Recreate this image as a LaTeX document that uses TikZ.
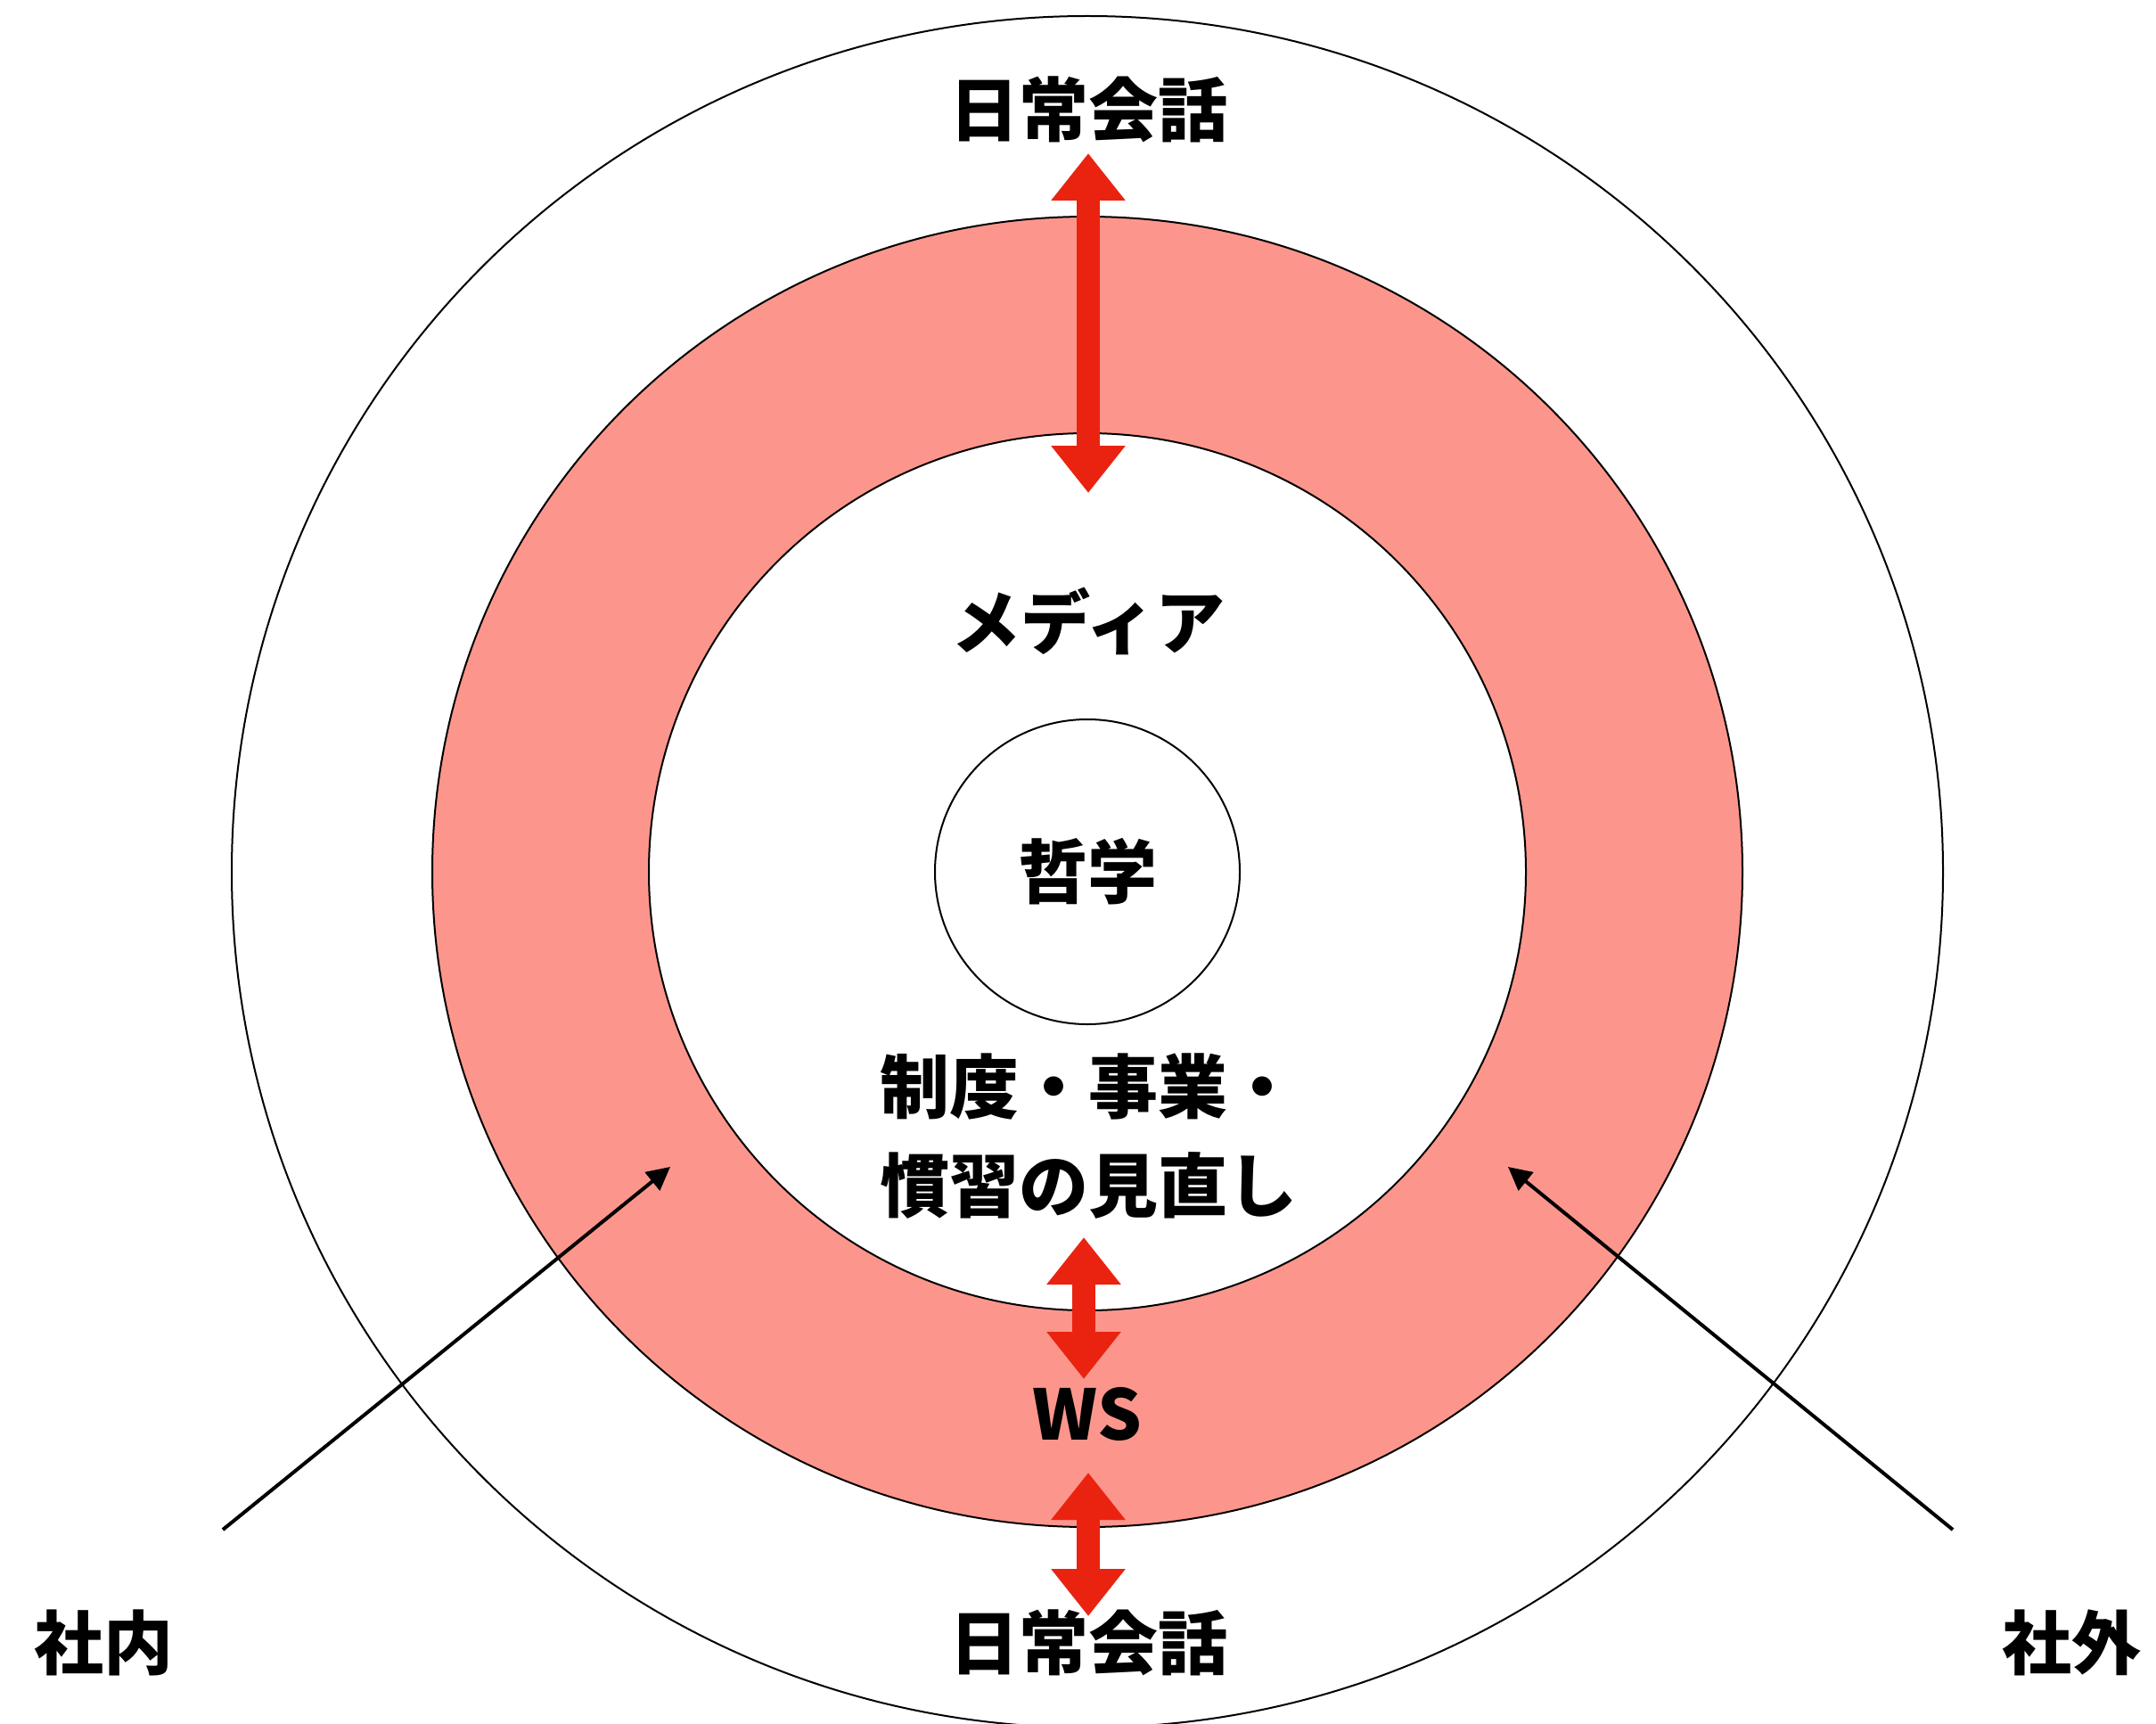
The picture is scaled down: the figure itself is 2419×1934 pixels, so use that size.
\documentclass[tikz,border=0pt]{standalone}
\usepackage{fontspec}
\newfontfamily\jp{Noto Sans CJK JP}
\usetikzlibrary{arrows.meta}
\definecolor{ringpink}{RGB}{252,150,140}
\definecolor{arrowred}{RGB}{234,35,16}
\begin{document}
\begin{tikzpicture}[x=1pt,y=-1pt,
  lbl/.style={font=\jp\bfseries\fontsize{78}{111}\selectfont, inner sep=0pt, align=center},
  ring/.style={draw=black, line width=2pt},
  redarrow/.style={draw=arrowred, line width=26pt, {Triangle[length=53pt,width=80pt]}-{Triangle[length=53pt,width=80pt]}},
  blackarrow/.style={draw=black, line width=4pt, -{Triangle[length=26pt,width=26pt]}}]
\useasboundingbox (0,0) rectangle (2419,1934);
\clip (0,0) rectangle (2419,1934);
\fill[white] (0,0) rectangle (2419,1934);
\coordinate (c) at (1220,978);
% outer circle
\draw[ring] (c) circle[radius=960pt];
% pink ring
\fill[ringpink, even odd rule] (c) circle[radius=735pt] (c) circle[radius=492pt];
\draw[ring] (c) circle[radius=735pt];
\draw[ring] (c) circle[radius=492pt];
% centre
\node[lbl, circle, draw, line width=2pt, minimum size=342pt] (phil) at (c) {哲学};
% labels
\node[lbl] (topdaily) at (1221,123) {日常会話};
\node[lbl] (media) at (1221,697) {メディア};
\node[lbl] (seido) at (1221,1275) {制度・事業・\\慣習の見直し};
\node[lbl] (ws) at (1220,1586) {WS};
\node[lbl] (botdaily) at (1221,1843) {日常会話};
\node[lbl] (inside) at (116,1843) {社内};
\node[lbl] (outside) at (2324,1843) {社外};
% red arrows
\coordinate (a1s) at (1221,172);
\coordinate (a1e) at (1221,553);
\coordinate (a2s) at (1216,1388);
\coordinate (a2e) at (1216,1547);
\coordinate (a3s) at (1221,1652);
\coordinate (a3e) at (1221,1813);
\draw[redarrow] (a1s) -- (a1e);
\draw[redarrow] (a2s) -- (a2e);
\draw[redarrow] (a3s) -- (a3e);
% black arrows
\coordinate (la) at (250,1716);
\coordinate (lb) at (752,1309);
\coordinate (ra) at (2191,1716);
\coordinate (rb) at (1692,1309);
\draw[blackarrow] (la) -- (lb);
\draw[blackarrow] (ra) -- (rb);
\end{tikzpicture}
\end{document}
